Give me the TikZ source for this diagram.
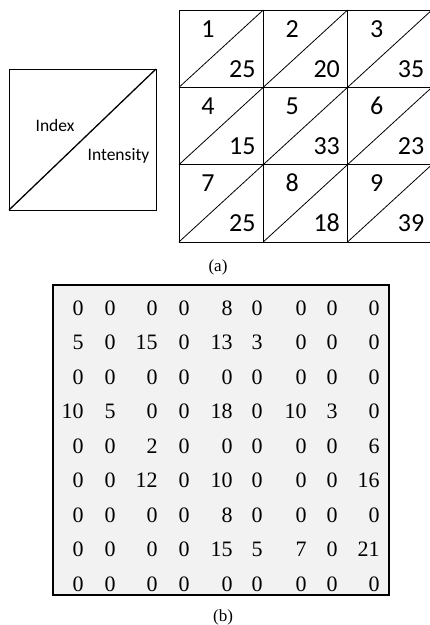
\documentclass[tikz,border=0pt]{standalone}
\usepackage{fontspec}
\setmainfont{Liberation Serif}
\newfontfamily\calfont{Carlito}
\usetikzlibrary{positioning}

\begin{document}
\begin{tikzpicture}[
  x=1pt,y=-1pt,
  line width=0.8pt,
  lbl/.style={font=\calfont\fontsize{17.5}{17.5}\selectfont,inner sep=0pt,anchor=base},
  idx/.style={font=\calfont\fontsize{26}{26}\selectfont,inner sep=0pt,anchor=base},
  val/.style={font=\calfont\fontsize{26}{26}\selectfont,inner sep=0pt,anchor=base east},
  num/.style={font=\fontsize{22}{22}\selectfont,inner sep=0pt,anchor=base east},
  capt/.style={font=\fontsize{17}{17}\selectfont,inner sep=0pt}
]
\useasboundingbox (0,0) rectangle (430,625);
% legend cell
\draw (9,69) rectangle (156,210);
\draw[line width=1.3pt] (9,210) -- (156,69);
\node[lbl] (index) at (55,131) {Index};
\node[lbl] (intensity) at (118.5,160) {Intensity};
% 3x3 cells: index / intensity
\foreach \v [count=\n from 0] in {25,20,35,15,33,23,25,18,39} {
  \pgfmathtruncatemacro{\i}{mod(\n,3)}
  \pgfmathtruncatemacro{\j}{int(\n/3)}
  \pgfmathtruncatemacro{\k}{\n+1}
  \pgfmathsetmacro{\xa}{179+84.3*\i}
  \pgfmathsetmacro{\ya}{10+77.3*\j}
  \draw (\xa,\ya) rectangle ++(84.3,77.3);
  \draw (\xa,\ya+77.3) -- ++(84.3,-77.3);
  \node[idx] (idx\k) at (\xa+29,\ya+27) {\k};
  \node[val] (val\k) at (\xa+77,\ya+67) {\v};
}
\node[capt] (capa) at (218,267) {(a)};
% intensity matrix
\draw[line width=2pt,fill=black!5] (53,285) rectangle (389,595);
\foreach \row [count=\r] in {
  {0,0,0,0,8,0,0,0,0},
  {5,0,15,0,13,3,0,0,0},
  {0,0,0,0,0,0,0,0,0},
  {10,5,0,0,18,0,10,3,0},
  {0,0,2,0,0,0,0,0,6},
  {0,0,12,0,10,0,0,0,16},
  {0,0,0,0,8,0,0,0,0},
  {0,0,0,0,15,5,7,0,21},
  {0,0,0,0,0,0,0,0,0}} {
  \foreach \v [count=\c] in \row {
    \pgfmathsetmacro{\cx}{{84,116,158,190,233,263,307,338,380}[\c-1]}
    \node[num] (m-\r-\c) at (\cx,{315+34.5*(\r-1)}) {\v};
  }
}
\node[capt] (capb) at (223,617) {(b)};
\end{tikzpicture}
\end{document}
